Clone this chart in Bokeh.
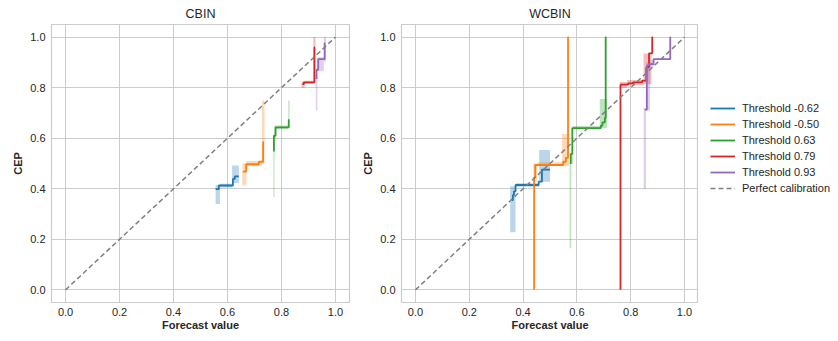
from bokeh.plotting import figure
from bokeh.layouts import row
from bokeh.models import Legend, LegendItem, FixedTicker, PrintfTickFormatter, Range1d
from bokeh.embed import file_html
from bokeh.resources import INLINE

labels = ["Threshold -0.62", "Threshold -0.50", "Threshold 0.63", "Threshold 0.79", "Threshold 0.93"]
colors = ["#1f77b4", "#ff7f0e", "#2ca02c", "#d62728", "#9467bd"]
ticks = [0.0, 0.2, 0.4, 0.6, 0.8, 1.0]
diag_x = [0.0, 1.0]
diag_y = [0.0, 1.0]

# CBIN calibration step curves
cbin_x = [
    [0.556, 0.568, 0.620, 0.627, 0.642],
    [0.657, 0.669, 0.716, 0.732, 0.735],
    [0.772, 0.772, 0.778, 0.827, 0.829],
    [0.877, 0.883, 0.922, 0.924],
    [0.930, 0.930, 0.936, 0.960, 0.962],
]
cbin_y = [
    [0.399, 0.413, 0.439, 0.449, 0.449],
    [0.468, 0.497, 0.507, 0.584, 0.584],
    [0.547, 0.610, 0.643, 0.673, 0.673],
    [0.814, 0.821, 0.959, 0.959],
    [0.834, 0.871, 0.913, 0.976, 0.976],
]
cbin_bx = [
    [0.556, 0.572, 0.617, 0.642],
    [0.655, 0.670, 0.728, 0.737],
    [0.770, 0.774, 0.780, 0.825, 0.830],
    [0.874, 0.886, 0.918, 0.926],
    [0.927, 0.933, 0.957, 0.965],
]
cbin_lo = [
    [0.34, 0.405, 0.423, 0.423],
    [0.413, 0.49, 0.50, 0.50],
    [0.366, 0.60, 0.636, 0.665, 0.665],
    [0.80, 0.815, 0.82, 0.82],
    [0.709, 0.865, 0.905, 0.905],
]
cbin_hi = [
    [0.415, 0.42, 0.492, 0.492],
    [0.50, 0.51, 0.749, 0.749],
    [0.555, 0.65, 0.65, 0.749, 0.749],
    [0.825, 0.827, 1.0, 1.0],
    [0.84, 0.92, 1.0, 1.0],
]

# WCBIN calibration step curves
wcbin_x = [
    [0.358, 0.362, 0.366, 0.372, 0.458, 0.470, 0.500],
    [0.441, 0.441, 0.445, 0.549, 0.559, 0.567, 0.569],
    [0.577, 0.577, 0.583, 0.689, 0.695, 0.704, 0.707, 0.709],
    [0.762, 0.762, 0.790, 0.809, 0.843, 0.858, 0.868, 0.880, 0.882],
    [0.852, 0.860, 0.866, 0.885, 0.947, 0.949],
]
wcbin_y = [
    [0.355, 0.375, 0.390, 0.415, 0.428, 0.476, 0.476],
    [0.0, 0.445, 0.494, 0.507, 0.522, 1.0, 1.0],
    [0.498, 0.538, 0.640, 0.650, 0.663, 0.680, 1.0, 1.0],
    [0.0, 0.812, 0.817, 0.821, 0.828, 0.880, 0.936, 1.0, 1.0],
    [0.713, 0.887, 0.893, 0.913, 1.0, 1.0],
]
wcbin_bx = [
    [0.352, 0.372, 0.460, 0.500],
    [0.438, 0.452, 0.545, 0.571],
    [0.573, 0.579, 0.585, 0.685, 0.712],
    [0.759, 0.787, 0.848, 0.877],
    [0.848, 0.857, 0.872, 0.885],
]
wcbin_lo = [
    [0.228, 0.408, 0.428, 0.428],
    [0.43, 0.49, 0.49, 0.49],
    [0.165, 0.50, 0.635, 0.64, 0.64],
    [0.80, 0.81, 0.814, 0.814],
    [0.40, 0.71, 0.88, 0.88],
]
wcbin_hi = [
    [0.41, 0.422, 0.553, 0.553],
    [0.50, 0.505, 0.617, 0.617],
    [0.50, 0.54, 0.648, 0.755, 0.755],
    [0.822, 0.83, 0.935, 0.935],
    [0.72, 0.90, 0.91, 0.91],
]

FONT = "Liberation Sans"
TXT = "#262626"
GRID = "#cccccc"
DIAG = "#808080"


def make_fig(title, fw, mb_left, mb_right, xs, ys, bxs, los, his):
    p = figure(frame_width=fw, frame_height=278, output_backend="svg", toolbar_location=None,
               x_range=Range1d(-0.052, 1.052), y_range=Range1d(-0.05, 1.05),
               min_border_left=mb_left, min_border_right=mb_right, min_border_top=22,
               min_border_bottom=30)
    p.title.text = title
    p.title.align = "center"
    p.title.text_font = FONT
    p.title.text_font_size = "12.5px"
    p.title.text_font_style = "normal"
    p.title.text_color = TXT
    p.title.standoff = 8
    p.title.offset = 0
    p.outline_line_color = GRID
    p.outline_line_width = 1.2
    p.background_fill_color = "white"
    p.border_fill_color = "white"
    for ax in (p.xaxis, p.yaxis):
        ax.ticker = FixedTicker(ticks=ticks)
        ax.formatter = PrintfTickFormatter(format="%.1f")
        ax.axis_line_color = None
        ax.major_tick_line_color = None
        ax.minor_tick_line_color = None
        ax.major_tick_out = 0
        ax.major_tick_in = 0
        ax.minor_tick_out = 0
        ax.minor_tick_in = 0
        ax.major_label_text_font = FONT
        ax.major_label_text_font_size = "11px"
        ax.major_label_text_color = TXT
        ax.axis_label_text_font = FONT
        ax.axis_label_text_font_size = "11px"
        ax.axis_label_text_font_style = "bold"
        ax.axis_label_text_color = TXT
    p.xaxis.axis_label = "Forecast value"
    p.yaxis.axis_label = "CEP"
    p.xaxis.major_label_standoff = 5
    p.yaxis.major_label_standoff = 6
    p.xaxis.axis_label_standoff = 0
    p.yaxis.axis_label_standoff = 3
    p.xgrid.ticker = FixedTicker(ticks=ticks)
    p.ygrid.ticker = FixedTicker(ticks=ticks)
    p.grid.grid_line_color = GRID
    p.grid.grid_line_width = 1

    for i in range(len(xs)):
        p.varea_step(x=bxs[i], y1=los[i], y2=his[i], step_mode="after",
                     fill_color=colors[i], fill_alpha=0.3)
    for i in range(len(xs)):
        p.step(x=xs[i], y=ys[i], mode="after", line_color=colors[i], line_width=1.8)
    p.line(diag_x, diag_y, line_color=DIAG, line_width=1.5, line_dash="5 3")
    return p


p1 = make_fig("CBIN", 298, 51, 9, cbin_x, cbin_y, cbin_bx, cbin_lo, cbin_hi)
p2 = make_fig("WCBIN", 297, 43, 0, wcbin_x, wcbin_y, wcbin_bx, wcbin_lo, wcbin_hi)

# Separate panel that only holds the shared legend (its ranges keep the proxy lines out of view)
p3 = figure(frame_width=138, frame_height=274, output_backend="svg", toolbar_location=None,
            x_axis_location=None, y_axis_location=None,
            x_range=Range1d(5, 6), y_range=Range1d(5, 6),
            min_border_left=0, min_border_right=0, min_border_top=22, min_border_bottom=0)
p3.grid.visible = False
p3.outline_line_color = None
p3.background_fill_color = "white"
p3.border_fill_color = "white"
leg_renderers = []
for i in range(len(labels)):
    leg_renderers.append(p3.line(diag_x, diag_y, line_color=colors[i], line_width=1.8))
leg_renderers.append(p3.line(diag_x, diag_y, line_color=DIAG, line_width=1.5, line_dash="5 3"))

items = [LegendItem(label=labels[i], renderers=[leg_renderers[i]]) for i in range(len(labels))]
items.append(LegendItem(label="Perfect calibration", renderers=[leg_renderers[-1]]))
legend = Legend(items=items, location="center_left")
legend.label_text_font = FONT
legend.label_text_font_size = "11px"
legend.label_text_color = TXT
legend.border_line_color = None
legend.background_fill_alpha = 0
legend.glyph_width = 25
legend.glyph_height = 16
legend.label_height = 16
legend.label_standoff = 7
legend.spacing = 0
legend.padding = 0
legend.margin = 12
p3.add_layout(legend, "center")

layout = row(p1, p2, p3)
open("out.html", "w").write(file_html(layout, INLINE))
